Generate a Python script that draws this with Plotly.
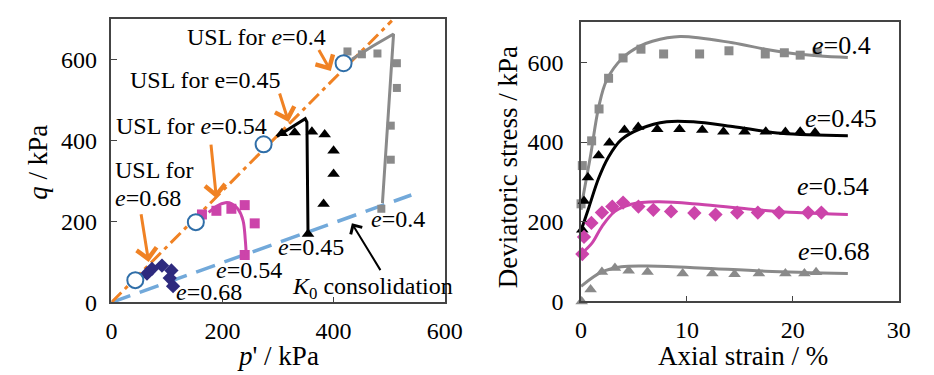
import plotly.graph_objects as go

# ---------------- Left panel: stress paths (p' vs q) ----------------
usl_p = [0, 505]
usl_q = [0, 695]
k0_p = [0, 540]
k0_q = [0, 265]

circ_p = [43, 152, 274, 418]
circ_q = [55, 198, 390, 590]

# e = 0.4 (grey squares + line)
e04_p_pts = [425, 451, 479, 514, 514, 503, 503, 486]
e04_q_pts = [619, 612, 614, 590, 529, 436, 352, 231]
e04_p_line = [488, 493, 498, 503, 508, 470, 433]
e04_q_line = [245, 350, 460, 570, 662, 632, 600]

# e = 0.45 (black triangles + line)
e045_p_pts = [307, 330, 361, 384, 400, 400, 382, 354]
e045_q_pts = [417, 419, 421, 414, 374, 317, 243, 169]
e045_p_line = [354, 353, 352, 349, 298]
e045_q_line = [165, 300, 445, 453, 409]

# e = 0.54 (magenta squares + line)
e054_p_pts = [163, 189, 216, 240, 258, 240]
e054_q_pts = [217, 226, 231, 240, 195, 117]
e054_p_line = [243, 241, 237, 228, 216, 205, 190, 175]
e054_q_line = [112, 155, 202, 230, 244, 246, 238, 222]

# e = 0.68 (navy diamonds + line)
e068_p_pts = [64, 73, 91, 108, 105, 111]
e068_q_pts = [71, 83, 91, 79, 60, 40]
e068_p_line = [52, 72, 88]
e068_q_line = [65, 82, 92]

# ---------------- Right panel: deviatoric stress vs axial strain ----------------
r04_x = [0, 0.12, 1.0, 1.7, 2.6, 3.97, 5.66, 7.8, 11.2, 13.97, 17.4, 19.2, 20.7, 22.3]
r04_y = [245, 341, 403, 483, 560, 611, 633, 621, 621, 629, 621, 624, 618, 626]
r04_lx = [0, 0.12, 0.9, 1.66, 2.43, 3.97, 5.5, 6.74, 9.35, 14.3, 17.4, 20.4, 25.2]
r04_ly = [230, 252, 366, 487, 556, 612, 640, 653, 665, 649, 633, 621, 612]

r045_x = [0.12, 0.28, 0.65, 1.66, 2.68, 4.1, 5.4, 7.2, 9.3, 11.45, 13.45, 15.45, 17.45, 19.3, 20.7, 22.1]
r045_y = [180, 252, 311, 366, 398, 430, 438, 432, 432, 430, 426, 426, 426, 425, 426, 424]
r045_lx = [0.03, 0.74, 1.66, 2.58, 3.8, 5.66, 8.1, 10.6, 14.3, 18.9, 25.2]
r045_ly = [180, 236, 309, 362, 406, 434, 451, 451, 439, 422, 416]

r054_x = [0.12, 0.28, 0.98, 1.97, 2.95, 3.97, 5.42, 6.83, 8.5, 10.7, 12.7, 14.75, 16.7, 18.7, 21.45, 22.7]
r054_y = [119, 162, 197, 223, 238, 248, 238, 230, 226, 222, 218, 223, 223, 223, 223, 223]
r054_lx = [0, 1.05, 1.97, 3.2, 4.74, 7.2, 11.2, 15.8, 20.4, 25.2]
r054_ly = [119, 147, 188, 226, 244, 250, 244, 232, 223, 218]

r068_x = [0.06, 0.9, 1.97, 3.2, 4.5, 6.28, 9.6, 12.4, 14.5, 16.8, 19.3, 21.1, 22.2]
r068_y = [0, 30, 74, 84, 77, 74, 70, 70, 68, 70, 70, 70, 73]
r068_lx = [0, 1.97, 3.8, 6.28, 11.2, 17.4, 25.2]
r068_ly = [38, 74, 87, 89, 84, 76, 70]

left_ticks = [0, 200, 400, 600]
right_xticks = [0, 10, 20, 30]
right_yticks = [0, 200, 400, 600]

GREY = "#8a8a8a"
MAG = "#CC44AA"
NAVY = "#2E2A7E"
ORANGE = "#F08224"
LBLUE = "#72A9DA"
CBLUE = "#2F6EA8"
FONT = "Liberation Serif"

fig = go.Figure()

def line(x, y, color, width, xa="x", ya="y", dash="solid", shape="spline"):
    fig.add_trace(go.Scatter(x=x, y=y, mode="lines", xaxis=xa, yaxis=ya,
                             line=dict(color=color, width=width, dash=dash, shape=shape),
                             showlegend=False, hoverinfo="skip"))

def pts(x, y, color, symbol, size, xa="x", ya="y"):
    fig.add_trace(go.Scatter(x=x, y=y, mode="markers", xaxis=xa, yaxis=ya,
                             marker=dict(color=color, symbol=symbol, size=size, line=dict(width=0)),
                             showlegend=False, hoverinfo="skip", cliponaxis=False))

# Left panel
line(k0_p, k0_q, LBLUE, 3.5, dash="20px,10px", shape="linear")
line(usl_p, usl_q, ORANGE, 3, dash="14px,5px,4px,5px", shape="linear")
pts(e04_p_pts, e04_q_pts, GREY, "square", 8)
line(e04_p_line, e04_q_line, GREY, 3, shape="linear")
pts(e045_p_pts, e045_q_pts, "black", "triangle-up", 11)
line(e045_p_line, e045_q_line, "black", 3, shape="linear")
pts(e054_p_pts, e054_q_pts, MAG, "square", 10)
line(e054_p_line, e054_q_line, MAG, 3)
pts(e068_p_pts, e068_q_pts, NAVY, "diamond", 11)
line(e068_p_line, e068_q_line, NAVY, 3)
fig.add_trace(go.Scatter(x=circ_p, y=circ_q, mode="markers",
                         marker=dict(symbol="circle", size=16, color="white",
                                     line=dict(color=CBLUE, width=2)),
                         showlegend=False, hoverinfo="skip", cliponaxis=False))

# Right panel
line(r04_lx, r04_ly, GREY, 3, "x2", "y2")
pts(r04_x, r04_y, GREY, "square", 9, "x2", "y2")
line(r045_lx, r045_ly, "black", 3, "x2", "y2")
pts(r045_x, r045_y, "black", "triangle-up", 11, "x2", "y2")
line(r054_lx, r054_ly, MAG, 3, "x2", "y2")
pts(r054_x, r054_y, MAG, "diamond", 11, "x2", "y2")
line(r068_lx, r068_ly, GREY, 3, "x2", "y2")
pts(r068_x, r068_y, GREY, "triangle-up", 11, "x2", "y2")

ax_common = dict(showgrid=False, zeroline=False, showline=True, mirror=True,
                 linecolor="#444", linewidth=1.5, ticks="inside", ticklen=6,
                 tickcolor="#444", tickfont=dict(family=FONT, size=24, color="black"))

fig.update_layout(
    width=934, height=375, margin=dict(l=0, r=0, t=0, b=0),
    plot_bgcolor="white", paper_bgcolor="white",
    xaxis=dict(domain=[100/934, 442/934], range=[0, 600], tickvals=left_ticks, anchor="y",
               ticklabelstandoff=6, **ax_common),
    yaxis=dict(domain=[(375-305)/375, (375-11)/375], range=[0, 700], tickvals=left_ticks, anchor="x",
               ticklabelstandoff=8, **ax_common),
    xaxis2=dict(domain=[582/934, 908/934], range=[0, 30], tickvals=right_xticks, anchor="y2",
                ticklabelstandoff=6, **ax_common),
    yaxis2=dict(domain=[(375-304)/375, (375-15)/375], range=[0, 700], tickvals=right_yticks, anchor="x2",
                ticklabelstandoff=11, **ax_common),
)

anns = []
def txt(x, y, s, size=24, xref="x", yref="y", angle=0):
    anns.append(dict(x=x, y=y, xref=xref, yref=yref, text=s, showarrow=False,
                     font=dict(family=FONT, size=size, color="black"),
                     xanchor="center", yanchor="middle", textangle=angle))

def arrow(xh, yh, xt, yt, color, width):
    anns.append(dict(x=xh, y=yh, ax=xt, ay=yt, xref="x", yref="y", axref="x", ayref="y",
                     text="", showarrow=True, arrowhead=4, arrowsize=1.3,
                     arrowwidth=width, arrowcolor=color))

# Left annotations
txt(261, 655, "USL for <i>e</i>=0.4")
txt(170, 548, "USL for e=0.45")
txt(144, 436, "USL for <i>e</i>=0.54")
txt(77, 326, "USL for")
txt(65, 257, "<i>e</i>=0.68")
txt(516, 205, "<i>e</i>=0.4")
txt(360, 136, "<i>e</i>=0.45")
txt(247, 79, "<i>e</i>=0.54")
txt(175, 26, "<i>e</i>=0.68")
txt(470, 36, "<i>K</i><sub>0</sub> consolidation")
arrow(395, 571, 372, 626, ORANGE, 3)
arrow(319, 445, 302, 519, ORANGE, 3)
arrow(189, 257, 179, 393, ORANGE, 3)
arrow(67, 100, 53, 221, ORANGE, 3)
arrow(433, 195, 486, 76, "black", 2)

# Right annotations
for xx, yy, s in [(24.6, 641, "<i>e</i>=0.4"), (24.6, 459, "<i>e</i>=0.45"),
                  (23.8, 289, "<i>e</i>=0.54"), (23.9, 126, "<i>e</i>=0.68")]:
    txt(xx, yy, s, size=26, xref="x2", yref="y2")

# Axis titles
txt(25/934, 1 - 160/375, "<i>q</i> / kPa", size=27, xref="paper", yref="paper", angle=-90)
txt(271/934, 1 - 360/375, "<i>p</i>' / kPa", size=27, xref="paper", yref="paper")
txt(507/934, 1 - 165/375, "Deviatoric stress / kPa", size=27, xref="paper", yref="paper", angle=-90)
txt(748/934, 1 - 360/375, "Axial strain / %", size=27, xref="paper", yref="paper")

fig.update_layout(annotations=anns)
fig.write_html("out.html")
